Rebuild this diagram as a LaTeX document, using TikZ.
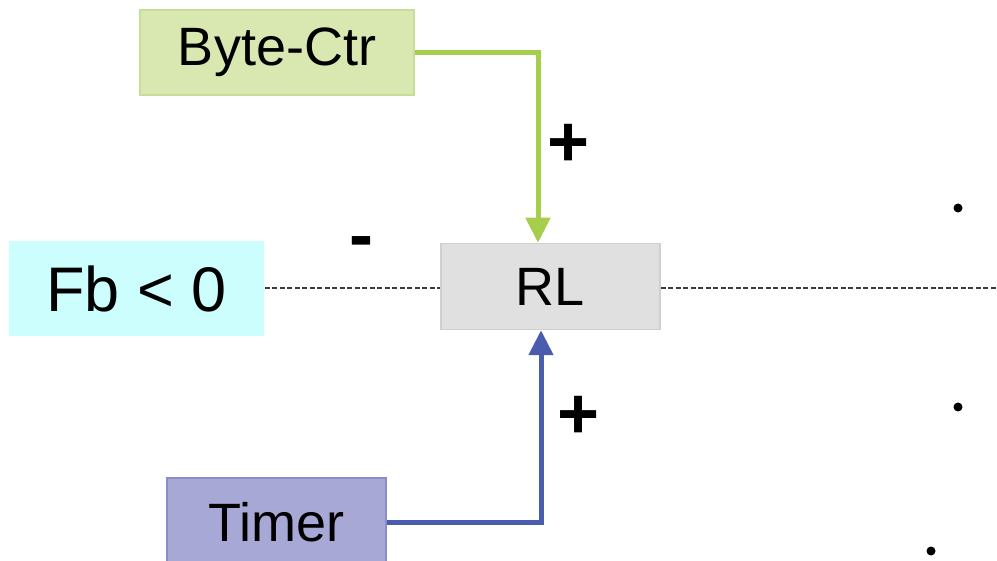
\documentclass[tikz,border=0pt]{standalone}
\usepackage{fontspec}
\setmainfont{Liberation Sans}
\usetikzlibrary{arrows.meta}
\definecolor{gfill}{HTML}{D8E8B0}
\definecolor{gline}{HTML}{C6DE98}
\definecolor{garrow}{HTML}{A6CE4C}
\definecolor{cfill}{HTML}{CCFEFE}
\definecolor{rfill}{HTML}{E0E0E0}
\definecolor{rline}{HTML}{CFCFCF}
\definecolor{tfill}{HTML}{A8A8D6}
\definecolor{tline}{HTML}{8A8CC8}
\definecolor{barrow}{HTML}{4A5CAE}
\definecolor{dline}{HTML}{3A3A3A}
\tikzset{
  boxnode/.style={rectangle, inner sep=0pt, line width=1.5pt, font=\fontsize{54}{60}\selectfont},
  conn/.style={line width=5pt, -{Triangle[length=25pt,width=24pt]}},
  dashline/.style={line width=2pt, dline, dash pattern=on 5pt off 2.5pt},
  sign/.style={font=\bfseries\fontsize{72}{80}\selectfont, inner sep=0pt},
  dotmark/.style={fill=black, draw=none}
}
\begin{document}
\begin{tikzpicture}[x=1pt,y=-1pt]
\clip (0,0) rectangle (997,561);
\fill[white] (0,0) rectangle (997,561);
\node[boxnode, fill=gfill, draw=gline, minimum width=274pt, minimum height=85pt] (byte) at (277,52.5) {Byte-Ctr};
\node[boxnode, fill=cfill, minimum width=255pt, minimum height=95pt, font=\fontsize{63}{70}\selectfont] (fb) at (136.5,288.5) {Fb < 0};
\node[boxnode, fill=rfill, draw=rline, minimum width=219pt, minimum height=86pt] (rl) at (550.5,286.5) {RL};
\node[boxnode, fill=tfill, draw=tline, minimum width=219pt, minimum height=88pt] (timer) at (276.5,522) {Timer};
\coordinate (rend) at (997,288.5);
\draw[dashline] (fb.east) -- (fb.east -| rl.west);
\draw[dashline] (rl.east |- fb.east) -- (rend);
\draw[conn, garrow] (byte.east) -| ([xshift=-12.5pt]rl.north);
\draw[conn, barrow] (timer.east) -| ([xshift=-9.5pt]rl.south);
\node[sign] (p1) at (569,145) {+};
\node[sign] (p2) at (579,417) {+};
\node[sign] (m1) at (361,248) {-};
\fill[dotmark] (958,208) circle (4.5pt);
\fill[dotmark] (958,407) circle (4.5pt);
\fill[dotmark] (931,551) circle (4.5pt);
\end{tikzpicture}
\end{document}
